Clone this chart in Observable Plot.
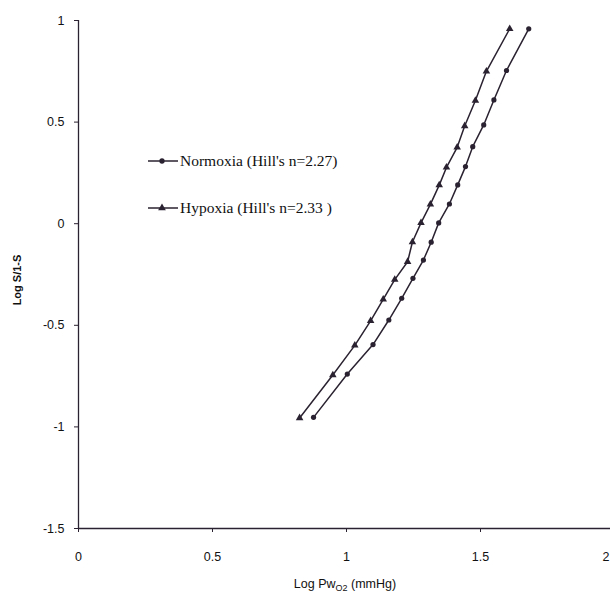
<!DOCTYPE html>
<html>
<head>
<meta charset="utf-8">
<script src="https://cdn.jsdelivr.net/npm/d3@7"></script>
<script src="https://cdn.jsdelivr.net/npm/@observablehq/plot@0.6"></script>
<style>
  html, body { margin: 0; padding: 0; background: #fff; overflow: hidden; }
  #chart svg { display: block; }
</style>
</head>
<body>
<div id="chart"></div>
<script>
// Log PwO2 (x) and Log S/1-S (y) values
const normoxiaX = [0.877, 1.003, 1.099, 1.158, 1.206, 1.248, 1.287, 1.316, 1.344, 1.384, 1.415, 1.444, 1.471, 1.512, 1.550, 1.597, 1.680];
const normoxiaY = [-0.953, -0.740, -0.595, -0.474, -0.367, -0.269, -0.179, -0.091, 0.004, 0.097, 0.191, 0.281, 0.379, 0.486, 0.609, 0.754, 0.959];
const hypoxiaX = [0.825, 0.949, 1.031, 1.090, 1.137, 1.180, 1.228, 1.246, 1.278, 1.313, 1.346, 1.373, 1.413, 1.441, 1.481, 1.522, 1.609];
const hypoxiaY = [-0.956, -0.745, -0.599, -0.478, -0.372, -0.275, -0.187, -0.090, 0.004, 0.095, 0.190, 0.277, 0.376, 0.481, 0.606, 0.750, 0.959];

const xTicks = [0, 0.5, 1, 1.5];
const xLastTick = [2];
const yTicks = [1, 0.5, 0, -0.5, -1, -1.5];
const seriesNames = ["Normoxia (Hill's n=2.27)", "Hypoxia (Hill's n=2.33 )"];

const normoxia = normoxiaX.map((x, i) => ({x, y: normoxiaY[i]}));
const hypoxia = hypoxiaX.map((x, i) => ({x, y: hypoxiaY[i]}));

const ink = "#2a2230";

const plot = Plot.plot({
  width: 610,
  height: 594,
  marginLeft: 78,
  marginRight: 0,
  marginTop: 20,
  marginBottom: 66,
  style: {fontFamily: "'Liberation Sans', Arial, sans-serif", fontSize: "12.5px", color: "#111"},
  x: {domain: [0, 2], range: [78, 614]},
  y: {domain: [-1.5, 1], range: [528, 20]},
  marks: [
    Plot.ruleY([-1.5], {stroke: ink, strokeWidth: 1.3}),
    Plot.ruleX([0], {y1: -1.5, y2: 1, stroke: ink, strokeWidth: 1.3}),
    Plot.axisX({ticks: xTicks, tickFormat: d => String(d), tickSize: 4, tickPadding: 20, label: null, stroke: ink, fill: "#111"}),
    Plot.axisX({ticks: xLastTick, tickFormat: d => String(d), tickSize: 0, tickPadding: 24, textAnchor: "end", dx: -5, label: null, fill: "#111"}),
    Plot.axisY({ticks: yTicks, tickFormat: d => d < 0 ? "-" + String(-d) : String(d), tickSize: 4, tickPadding: 10, label: null, stroke: ink, fill: "#111"}),
    Plot.line(hypoxia, {x: "x", y: "y", stroke: ink, strokeWidth: 1.5}),
    Plot.line(normoxia, {x: "x", y: "y", stroke: ink, strokeWidth: 1.5}),
    Plot.dot(hypoxia, {x: "x", y: "y", symbol: "triangle", r: 2.8, fill: ink, stroke: "none"}),
    Plot.dot(normoxia, {x: "x", y: "y", r: 2.6, fill: ink, stroke: "none"})
  ]
});

document.getElementById("chart").appendChild(plot);

const svg = d3.select(plot);

// axis titles
const xl = svg.append("text")
  .attr("x", 345).attr("y", 588)
  .attr("text-anchor", "middle")
  .attr("font-family", "'Liberation Sans', Arial, sans-serif")
  .attr("font-size", 12.5)
  .attr("fill", "#111");
xl.append("tspan").text("Log Pw");
xl.append("tspan").attr("font-size", 9).attr("dy", 3).text("O2");
xl.append("tspan").attr("dy", -3).text(" (mmHg)");

svg.append("text")
  .attr("transform", "translate(21,280) rotate(-90)")
  .attr("text-anchor", "middle")
  .attr("font-family", "'Liberation Sans', Arial, sans-serif")
  .attr("font-size", 11)
  .attr("font-weight", "bold")
  .attr("fill", "#111")
  .text("Log S/1-S");

// legend
const symbols = [d3.symbolCircle, d3.symbolTriangle];
const sizes = [22, 26];
const rowsY = [161, 208];
seriesNames.forEach((name, i) => {
  const g = svg.append("g").attr("transform", `translate(0,${rowsY[i]})`);
  g.append("line").attr("x1", 148).attr("x2", 178).attr("y1", 0).attr("y2", 0)
    .attr("stroke", ink).attr("stroke-width", 1.5);
  g.append("path").attr("transform", "translate(162,0)")
    .attr("d", d3.symbol(symbols[i], sizes[i])()).attr("fill", ink);
  g.append("text").attr("x", 180).attr("y", 0).attr("dy", "0.35em")
    .attr("text-anchor", "start")
    .attr("font-family", "'Liberation Serif', 'Times New Roman', serif")
    .attr("font-size", 15.5)
    .attr("fill", "#111")
    .text(name);
});
</script>
</body>
</html>
